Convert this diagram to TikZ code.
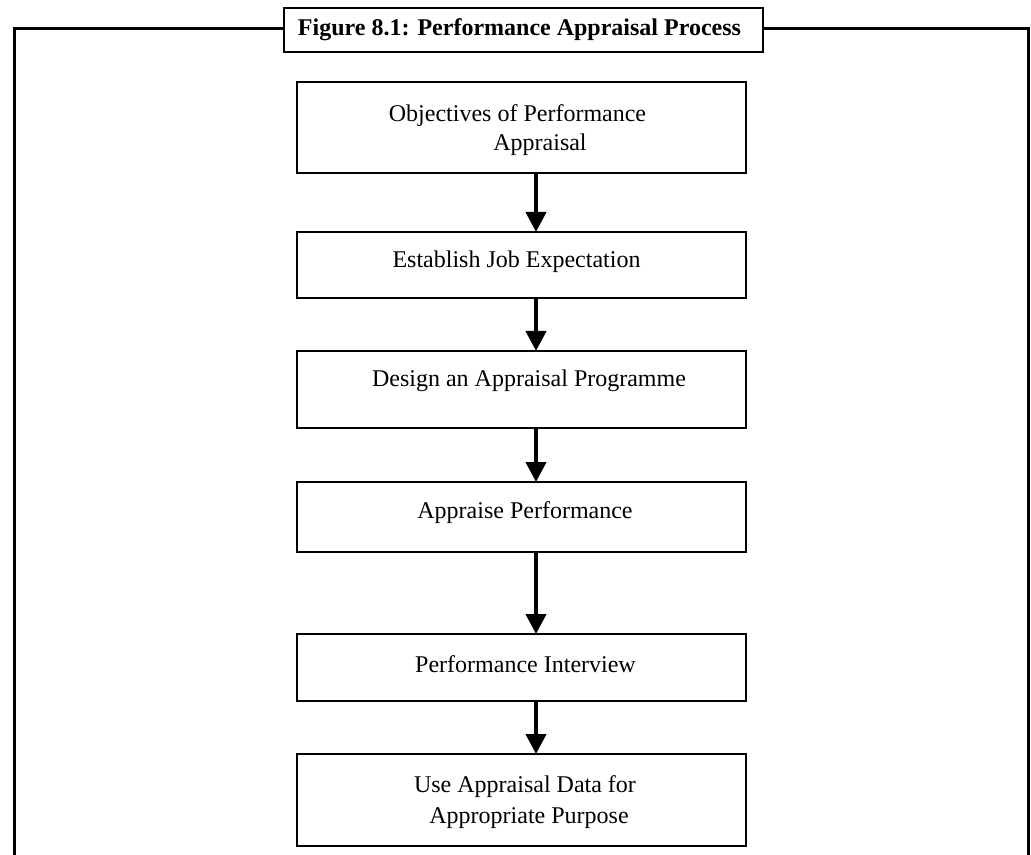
\documentclass[tikz,border=0pt]{standalone}
\usepackage{fontspec}
\setmainfont{Liberation Serif}
\usetikzlibrary{arrows.meta}

\tikzset{
  stepbox/.style={draw, line width=1.5pt, minimum width=336.75pt, minimum height=#1, inner sep=0pt, outer sep=0pt},
  steptext/.style={inner sep=0pt, anchor=base, font=\fontsize{18}{21}\selectfont},
  flow/.style={line width=3pt, -{Triangle[width=15pt,length=15pt]}},
  frame/.style={line width=2.25pt},
  titlebox/.style={draw, fill=white, line width=2pt, minimum width=359.25pt, minimum height=33pt, inner sep=0pt},
}

\begin{document}
\begin{tikzpicture}[x=0.75pt, y=-0.75pt]
  \useasboundingbox (0,0) rectangle (1031,855);

  % outer frame, open at the bottom
  \draw[frame] (14,856) -- (14,29) -- (1028,29) -- (1028,856);

  % caption box sitting on the frame
  \node[titlebox] (title) at (523.5,30) {};
  \node[inner sep=0pt, anchor=base, font=\fontsize{18}{20}\selectfont\bfseries] (titletext) at (519.5,36) {Figure 8.1: Performance Appraisal Process};

  % process steps
  \node[stepbox=68.25pt] (s1) at (521.5,127.5) {};
  \node[stepbox=49.5pt]  (s2) at (521.5,265) {};
  \node[stepbox=57.75pt] (s3) at (521.5,389.5) {};
  \node[stepbox=52.5pt]  (s4) at (521.5,517) {};
  \node[stepbox=50.25pt] (s5) at (521.5,667.5) {};
  \node[stepbox=69pt]    (s6) at (521.5,800) {};

  \node[steptext] (t1a) at (517.5,122) {Objectives of Performance};
  \node[steptext] (t1b) at (540,151) {Appraisal};
  \node[steptext] (t2)  at (516.5,268) {Establish Job Expectation};
  \node[steptext] (t3)  at (529,387) {Design an Appraisal Programme};
  \node[steptext] (t4)  at (525,518) {Appraise Performance};
  \node[steptext] (t5)  at (525.5,672) {Performance Interview};
  \node[steptext] (t6a) at (525,792) {Use Appraisal Data for};
  \node[steptext] (t6b) at (529,823) {Appropriate Purpose};

  % connectors
  \coordinate (axis) at (536,0);
  \foreach \a/\b in {s1/s2, s2/s3, s3/s4, s4/s5, s5/s6}
    \draw[flow] (\a.south -| axis) -- (\b.north -| axis);
\end{tikzpicture}
\end{document}
